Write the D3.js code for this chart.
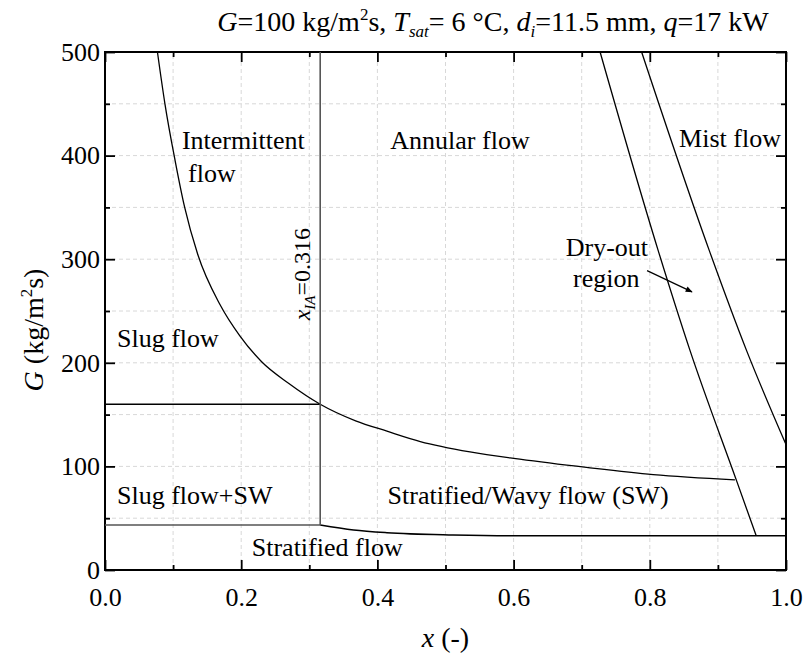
<!DOCTYPE html>
<html>
<head>
<meta charset="utf-8">
<script src="https://cdn.jsdelivr.net/npm/d3@7"></script>
<style>
body { margin: 0; background: #fff; }
text { font-family: "Liberation Serif", "Times New Roman", serif; fill: #000; }
</style>
</head>
<body>
<svg id="chart" width="803" height="659"></svg>
<script>
// boundaries of the flow pattern map, x = vapour quality, G in kg/m2s
let intermittentX = [0.077, 0.088, 0.103, 0.117, 0.136, 0.169, 0.198, 0.23, 0.27, 0.316, 0.368, 0.414, 0.463, 0.536, 0.609, 0.707, 0.805, 0.925]
let intermittentG = [500, 450, 395, 350, 305, 256, 226, 201, 180, 160, 144, 134, 124, 114, 107, 99, 92, 87]

let dryoutX = [0.727, 0.812, 0.859, 0.9275, 0.956]
let dryoutG = [500, 309, 212, 86, 33.5]

let mistX = [0.788, 0.887, 0.942, 1.0]
let mistG = [500, 309, 212, 121]

let stratX = [0.316, 0.365, 0.414, 0.511, 0.6, 1.0]
let stratG = [43.4, 38.6, 36, 33.8, 33, 33]

let xIA = 0.316
let slugG = 160
let slugSWG = 43.4

let xTicks = [0, 0.2, 0.4, 0.6, 0.8, 1.0]
let xMinor = [0.1, 0.3, 0.5, 0.7, 0.9]
let yTicks = [0, 100, 200, 300, 400, 500]
let yMinor = [50, 150, 250, 350, 450]
let xGrid = [0.1, 0.2, 0.3, 0.4, 0.5, 0.6, 0.7, 0.8, 0.9]
let yGrid = [50, 100, 150, 200, 250, 300, 350, 400, 450]

let svg = d3.select('#chart')
let xpad_l = 105, xpad_r = 17, ypad_t = 52, ypad_b = 89
let W = 803, H = 659
let fs = 26

let xScale = d3.scaleLinear().domain([0, 1]).range([xpad_l, W - xpad_r])
let yScale = d3.scaleLinear().domain([0, 500]).range([H - ypad_b, ypad_t])

// grid
let grid = svg.append('g').attr('stroke', '#d8d8d8').attr('stroke-width', 1).attr('stroke-dasharray', '4,3')
grid.selectAll('.gx').data(xGrid).join('line')
    .attr('x1', d => xScale(d)).attr('x2', d => xScale(d))
    .attr('y1', yScale(0)).attr('y2', yScale(500))
grid.selectAll('.gy').data(yGrid).join('line')
    .attr('y1', d => yScale(d)).attr('y2', d => yScale(d))
    .attr('x1', xScale(0)).attr('x2', xScale(1))

// axes, ticks pointing inward on all four sides
svg.append('g').attr('transform', `translate(0,${yScale(0)})`)
    .call(d3.axisBottom(xScale).tickValues(xTicks).tickFormat(d3.format('.1f')).tickSizeInner(-10).tickSizeOuter(0).tickPadding(18))
svg.append('g').attr('transform', `translate(0,${yScale(0)})`)
    .call(d3.axisBottom(xScale).tickValues(xMinor).tickFormat('').tickSizeInner(-5).tickSizeOuter(0))
svg.append('g').attr('transform', `translate(0,${yScale(500)})`)
    .call(d3.axisTop(xScale).tickValues(xTicks).tickFormat('').tickSizeInner(-10).tickSizeOuter(0))
svg.append('g').attr('transform', `translate(0,${yScale(500)})`)
    .call(d3.axisTop(xScale).tickValues(xMinor).tickFormat('').tickSizeInner(-5).tickSizeOuter(0))

svg.append('g').attr('transform', `translate(${xScale(0)},0)`)
    .call(d3.axisLeft(yScale).tickValues(yTicks).tickFormat(d3.format('d')).tickSizeInner(-10).tickSizeOuter(0).tickPadding(5))
svg.append('g').attr('transform', `translate(${xScale(0)},0)`)
    .call(d3.axisLeft(yScale).tickValues(yMinor).tickFormat('').tickSizeInner(-5).tickSizeOuter(0))
svg.append('g').attr('transform', `translate(${xScale(1)},0)`)
    .call(d3.axisRight(yScale).tickValues(yTicks).tickFormat('').tickSizeInner(-10).tickSizeOuter(0))
svg.append('g').attr('transform', `translate(${xScale(1)},0)`)
    .call(d3.axisRight(yScale).tickValues(yMinor).tickFormat('').tickSizeInner(-5).tickSizeOuter(0))

svg.selectAll('.domain').remove()
svg.selectAll('.tick line').attr('stroke', '#000').attr('stroke-width', 1.8)
svg.selectAll('.tick text').attr('font-size', fs).attr('fill', '#000')

svg.append('rect')
    .attr('x', xScale(0)).attr('y', yScale(500))
    .attr('width', xScale(1) - xScale(0)).attr('height', yScale(0) - yScale(500))
    .attr('fill', 'none').attr('stroke', '#000').attr('stroke-width', 2)

// boundary lines
let line = d3.line().x(d => xScale(d[0])).y(d => yScale(d[1]))
let curved = d3.line().x(d => xScale(d[0])).y(d => yScale(d[1])).curve(d3.curveMonotoneX)
let zip = (a, b) => a.map((v, i) => [v, b[i]])

let lines = svg.append('g').attr('fill', 'none')
lines.append('path').datum(zip(intermittentX, intermittentG)).attr('d', curved)
    .attr('stroke', '#000').attr('stroke-width', 1.3)
lines.append('path').datum(zip(dryoutX, dryoutG)).attr('d', curved)
    .attr('stroke', '#000').attr('stroke-width', 1.3)
lines.append('path').datum(zip(mistX, mistG)).attr('d', curved)
    .attr('stroke', '#000').attr('stroke-width', 1.3)
lines.append('path').datum(zip(stratX, stratG)).attr('d', curved)
    .attr('stroke', '#000').attr('stroke-width', 1.5)
lines.append('path').datum([[0, slugG], [xIA, slugG]]).attr('d', line)
    .attr('stroke', '#000').attr('stroke-width', 1.3)
lines.append('path').datum([[0, slugSWG], [xIA, slugSWG]]).attr('d', line)
    .attr('stroke', '#555').attr('stroke-width', 1.5)
lines.append('path').datum([[xIA, 500], [xIA, slugSWG]]).attr('d', line)
    .attr('stroke', '#555').attr('stroke-width', 1.6)

// arrow to the dry-out region
svg.append('defs').append('marker')
    .attr('id', 'head').attr('viewBox', '0 0 10 10').attr('refX', 9).attr('refY', 5)
    .attr('markerWidth', 13).attr('markerHeight', 7).attr('markerUnits', 'userSpaceOnUse')
    .attr('orient', 'auto')
    .append('path').attr('d', 'M0,1 L10,5 L0,9 Z').attr('fill', '#000')
svg.append('line')
    .attr('x1', xScale(0.796)).attr('y1', yScale(289))
    .attr('x2', xScale(0.862)).attr('y2', yScale(268.5))
    .attr('stroke', '#000').attr('stroke-width', 1.2).attr('marker-end', 'url(#head)')

// region labels
let labels = svg.append('g').attr('font-size', fs)
function label(txt, x, g, anchor) {
    labels.append('text').attr('x', xScale(x)).attr('y', yScale(g))
        .attr('text-anchor', anchor || 'start').text(txt)
}
label('Intermittent', 0.113, 406)
label('flow', 0.122, 374.5)
label('Annular flow', 0.419, 406)
label('Mist flow', 0.843, 408)
label('Dry-out', 0.737, 303, 'middle')
label('region', 0.736, 273, 'middle')
label('Slug flow', 0.0176, 215.5)
label('Slug flow+SW', 0.0176, 64)
label('Stratified/Wavy flow (SW)', 0.415, 64)
label('Stratified flow', 0.2155, 13.5)

// x_IA label, rotated
let ia = svg.append('text').attr('font-size', 24)
    .attr('transform', `translate(${xScale(0.301)},${yScale(241)}) rotate(-90)`)
ia.append('tspan').attr('font-style', 'italic').text('x')
ia.append('tspan').attr('font-style', 'italic').attr('font-size', 15).attr('dy', 5).text('IA')
ia.append('tspan').attr('dy', -5).text('=0.316')

// axis titles
let xt = svg.append('text').attr('font-size', 28).attr('text-anchor', 'middle')
    .attr('x', (xScale(0) + xScale(1)) / 2).attr('y', 647)
xt.append('tspan').attr('font-style', 'italic').text('x')
xt.append('tspan').text(' (-)')

let yt = svg.append('text').attr('font-size', 28).attr('text-anchor', 'middle')
    .attr('transform', `translate(43,330) rotate(-90)`)
yt.append('tspan').attr('font-style', 'italic').text('G')
yt.append('tspan').text(' (kg/m')
yt.append('tspan').attr('font-size', 17).attr('dy', -11).text('2')
yt.append('tspan').attr('dy', 11).text('s)')

// title
let tt = svg.append('text').attr('font-size', 28).attr('text-anchor', 'middle')
    .attr('x', 493).attr('y', 31)
tt.append('tspan').attr('font-style', 'italic').text('G')
tt.append('tspan').text('=100 kg/m')
tt.append('tspan').attr('font-size', 17).attr('dy', -11).text('2')
tt.append('tspan').attr('dy', 11).text('s, ')
tt.append('tspan').attr('font-style', 'italic').text('T')
tt.append('tspan').attr('font-style', 'italic').attr('font-size', 17).attr('dy', 6).text('sat')
tt.append('tspan').attr('dy', -6).text('= 6 °C, ')
tt.append('tspan').attr('font-style', 'italic').text('d')
tt.append('tspan').attr('font-style', 'italic').attr('font-size', 17).attr('dy', 6).text('i')
tt.append('tspan').attr('dy', -6).text('=11.5 mm, ')
tt.append('tspan').attr('font-style', 'italic').text('q')
tt.append('tspan').text('=17 kW')
</script>
</body>
</html>
